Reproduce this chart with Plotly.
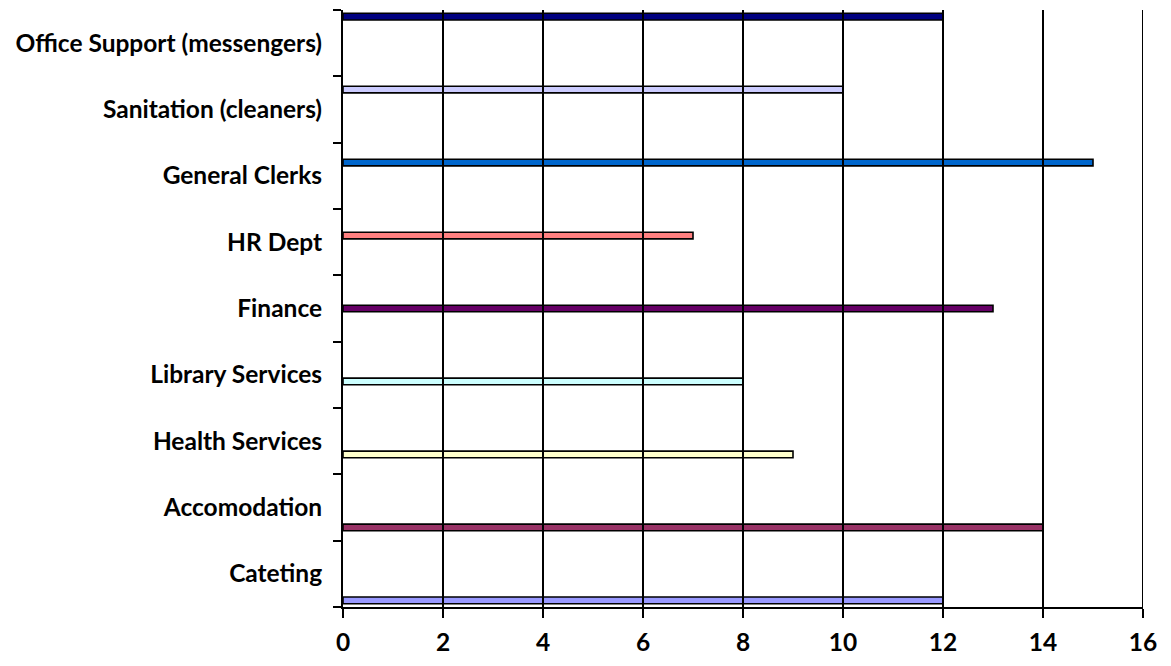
import plotly.graph_objects as go

# Departments (bottom to top) and their headcounts
departments = [
    "Cateting",
    "Accomodation",
    "Health Services",
    "Library Services",
    "Finance",
    "HR Dept",
    "General Clerks",
    "Sanitation (cleaners)",
    "Office Support (messengers)",
]
headcount = [12, 14, 9, 8, 13, 7, 15, 10, 12]
bar_colors = [
    "#9999FF", "#993366", "#FFFFCC", "#CCFFFF", "#660066",
    "#FF8080", "#0066CC", "#CCCCFF", "#000080",
]
x_ticks = [0, 2, 4, 6, 8, 10, 12, 14, 16]

fig = go.Figure()

# One series per department, each in its own offset group so every bar
# keeps its own slot inside the category band
for i, (name, val, col) in enumerate(zip(departments, headcount, bar_colors)):
    fig.add_trace(go.Bar(
        y=[name], x=[val], name=name, orientation="h",
        offsetgroup=str(i), alignmentgroup="dept",
        marker=dict(color=col, line=dict(color="black", width=1.6)),
        showlegend=False,
    ))

# Vertical grid lines drawn on top of the bars
for v in x_ticks[1:]:
    fig.add_shape(type="line", xref="x", yref="paper", x0=v, x1=v, y0=0, y1=1,
                  line=dict(color="black", width=2), layer="above")

label_font = dict(family="Lato", size=24.5, color="black", weight="bold")

fig.update_layout(
    width=1171, height=666,
    margin=dict(l=343, r=28, t=10, b=55),
    paper_bgcolor="white", plot_bgcolor="white",
    barmode="group", bargap=0.1, bargroupgap=0,
    font=label_font,
    xaxis=dict(
        range=[0, 16], tickvals=x_ticks, showgrid=False, zeroline=False,
        showline=True, linecolor="black", linewidth=2,
        ticks="outside", ticklen=9, tickwidth=2, tickcolor="black",
        tickfont=label_font, ticklabelstandoff=4,
    ),
    yaxis=dict(
        type="category", categoryorder="array", categoryarray=departments,
        range=[-0.5, 8.5], showgrid=False, zeroline=False,
        showline=True, linecolor="black", linewidth=2,
        ticks="outside", ticklen=8, tickwidth=2, tickcolor="black",
        tickson="boundaries", tickfont=label_font, ticklabelstandoff=14,
    ),
)

fig.write_html("out.html")
